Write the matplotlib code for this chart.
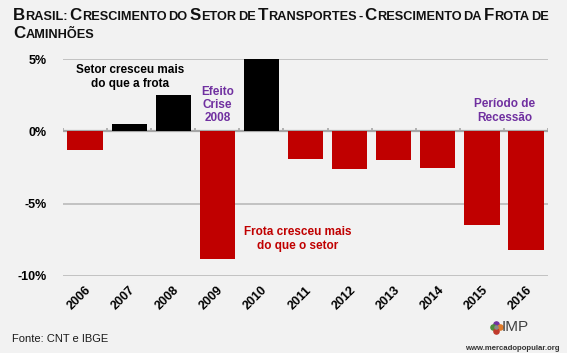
import matplotlib
matplotlib.use("Agg")
import matplotlib.pyplot as plt
from matplotlib import font_manager

years = ["2006", "2007", "2008", "2009", "2010", "2011", "2012", "2013", "2014", "2015", "2016"]
values = [-1.3, 0.5, 2.5, -8.8, 5.0, -1.9, -2.6, -1.95, -2.5, -6.5, -8.2]
yticks = [5, 0, -5, -10]
ytick_labels = ["5%", "0%", "-5%", "-10%"]

names = {f.name for f in font_manager.fontManager.ttflist}
FONT = "Liberation Sans" if "Liberation Sans" in names else "DejaVu Sans"
NARROW = "Liberation Sans Narrow" if "Liberation Sans Narrow" in names else FONT

BG = "#f2f2f2"
RED = "#c00000"
PURPLE = "#7030a0"

fig = plt.figure(figsize=(5.67, 3.53), dpi=100, facecolor=BG)
ax = fig.add_axes([63/567, 1-276/353, (548-63)/567, (276-59)/353])
ax.set_facecolor(BG)

x = list(range(len(years)))
colors = ["black" if v >= 0 else RED for v in values]
ax.bar(x, values, width=0.8, color=colors, zorder=3)

ax.set_xlim(-0.5, len(years) - 0.5)
ax.set_ylim(-10, 5)
for s in ax.spines.values():
    s.set_visible(False)

for yv in [5, -5, -10]:
    ax.axhline(yv, color="#bfbfbf", lw=1.3, zorder=1)
ax.axhline(0, color="#a6a6a6", lw=1.6, zorder=2)
for b in range(len(years) + 1):
    ax.plot([b - 0.5, b - 0.5], [0, 0.22], color="#a6a6a6", lw=1.2, zorder=2, solid_capstyle="butt")

ax.set_yticks(yticks)
ax.set_yticklabels(ytick_labels, fontfamily=FONT, fontweight="bold", fontsize=9)
ax.tick_params(axis="y", length=0, pad=12)
ax.set_xticks(x)
ax.set_xticklabels(years, rotation=45, ha="right", va="top", rotation_mode="anchor",
                   fontfamily=FONT, fontweight="bold", fontsize=9)
ax.tick_params(axis="x", length=0, pad=6)

kw = dict(ha="center", va="center", fontfamily=FONT, fontweight="bold", fontsize=8.5, linespacing=1.15)
ax.text(1.02, 3.76, "Setor cresceu mais\ndo que a frota", color="black", **kw)
ax.text(3.0, 1.82, "Efeito\nCrise\n2008", color=PURPLE, **kw)
ax.text(4.83, -7.44, "Frota cresceu mais\ndo que o setor", color=RED, **kw)
ax.text(9.52, 1.41, "Período de\nRecessão", color=PURPLE, **kw)

# Small-caps title
renderer = fig.canvas.get_renderer()
W, H = fig.bbox.width, fig.bbox.height

def small_caps_line(words, x0, y0, big=12.2, small=9.2):
    xp = x0
    sp = fig.text(0, 0, " ", fontfamily=NARROW, fontweight="bold", fontsize=small)
    spw = sp.get_window_extent(renderer).width * 0.55
    sp.remove()
    for w in words:
        pieces = []
        if w[0].isupper():
            pieces.append((w[0], big))
            if len(w) > 1:
                pieces.append((w[1:].upper(), small))
        else:
            pieces.append((w.upper(), small))
        for txt, sz in pieces:
            t = fig.text(xp / W, 1 - y0 / H, txt, fontfamily=NARROW, fontweight="bold",
                         fontsize=sz, color="#111111", ha="left", va="baseline")
            xp += t.get_window_extent(renderer).width
        xp += spw

small_caps_line("Brasil: Crescimento do Setor de Transportes - Crescimento da Frota de".split(), 13, 20)
small_caps_line(["Caminhões"], 13, 38)

fig.text(12/567, 1-339/353, "Fonte: CNT e IBGE", fontfamily=FONT, fontsize=8, color="#1a1a1a",
         ha="left", va="center")
fig.text(560/567, 1-348/353, "www.mercadopopular.org", fontfamily=FONT, fontweight="bold",
         fontsize=5.6, color="#333333", ha="right", va="center")
fig.text(502/567, 1-327/353, "IMP", fontfamily=FONT, fontsize=11, color="#404040",
         ha="left", va="center")

lax = fig.add_axes([489/567, 1-334/353, 14/567, 14/353])
lax.set_xlim(-1.6, 1.6)
lax.set_ylim(-1.6, 1.6)
lax.axis("off")
lax.scatter([0], [0.8], s=14, color="#7030a0")
lax.scatter([-0.8], [0], s=14, color="#4c8c3a")
lax.scatter([0.8], [0], s=14, color="#e07b2a")
lax.scatter([0], [-0.8], s=14, color="#c0392b")
lax.scatter([0], [0], s=5, color="#888888")

fig.savefig("out.png", dpi=100, facecolor=BG)
